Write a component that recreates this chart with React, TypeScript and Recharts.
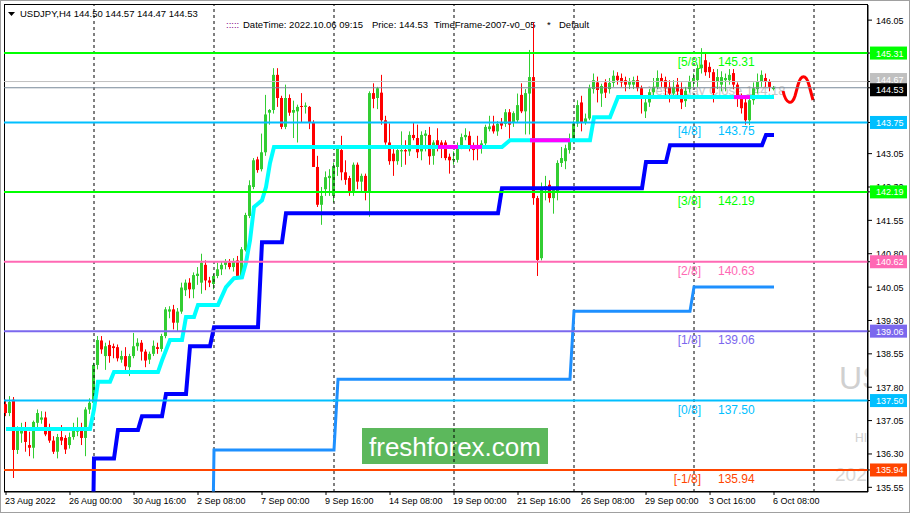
import { Bar, ComposedChart, Customized, Line, ReferenceLine, XAxis, YAxis } from "recharts"

const FONT = "'Liberation Sans', Arial, sans-serif"

// H4 candles, 23 Aug 2022 08:00 .. 6 Oct 2022 08:00
const opens = [
  137.42, 137.22, 137.52, 136.39, 136.76, 136.86, 136.5, 136.44, 137.0, 137.07,
  137.12, 136.9, 136.6, 136.35, 136.68, 136.66, 136.5, 136.68, 136.8, 136.84,
  136.66, 137.3, 137.45, 138.3, 138.85, 138.5, 138.75, 138.72, 138.7, 138.42,
  138.5, 138.25, 138.5, 138.72, 138.8, 138.6, 138.42, 138.55, 138.7, 138.66,
  138.95, 139.5, 139.55, 139.25, 139.5, 139.98, 140.15, 140.0, 140.3, 140.15,
  140.55, 140.2, 140.12, 140.3, 140.45, 140.55, 140.6, 140.5, 140.65, 140.3,
  140.88, 141.65, 142.3, 142.92, 142.7, 143.08, 143.97, 144.03, 144.82, 144.3,
  143.65, 144.3, 143.97, 144.0, 144.12, 144.1, 144.1, 143.76, 142.75, 141.9,
  142.25, 142.5, 142.1, 142.75, 143.13, 142.63, 142.5, 142.18, 142.8, 142.42,
  142.55, 142.2, 144.41, 144.3, 144.42, 143.8, 143.3, 143.05, 142.88, 143.1,
  143.13, 143.1, 143.47, 143.4, 143.1, 143.45, 143.47, 143.0, 143.35, 143.3,
  143.3, 142.98, 142.9, 142.91, 143.24, 143.42, 143.45, 143.2, 143.2, 143.18,
  143.28, 143.6, 143.68, 143.55, 143.76, 143.72, 143.98, 143.76, 143.8, 144.37,
  144.0, 144.4, 144.77, 142.05, 140.7, 142.28, 142.35, 142.05, 142.2, 142.84,
  142.88, 143.13, 143.35, 143.73, 144.2, 143.76, 143.84, 144.5, 144.65, 144.4,
  144.65, 144.5, 144.64, 144.8, 144.75, 144.7, 144.6,
  144.6, 144.7, 144.52, 144.0, 144.2, 144.43, 144.55, 144.75, 144.7, 144.55,
  144.4, 144.6, 144.5, 144.23, 144.5, 144.68, 144.7, 144.97, 145.15, 145.0,
  144.88, 144.66, 144.6, 144.7, 144.7, 144.86, 144.6, 144.32, 144.2, 143.8,
  144.25, 144.5, 144.66, 144.75, 144.66, 144.5,
]
const highs = [
  137.52, 137.6, 137.58, 136.92, 137.0, 137.02, 136.8, 137.05, 137.3, 137.26,
  137.25, 136.98, 136.7, 136.75, 136.95, 136.72, 136.78, 137.0, 137.12, 137.0,
  137.35, 137.55, 138.35, 138.95, 138.95, 138.8, 138.85, 138.78, 138.76, 138.62,
  138.7, 138.55, 139.02, 138.9, 138.86, 138.65, 138.6, 138.85, 138.8, 139.0,
  139.6, 139.62, 139.65, 139.58, 140.15, 140.22, 140.25, 140.38, 140.5, 140.8,
  140.65, 140.28, 140.35, 140.6, 140.62, 140.68, 140.68, 140.7, 140.75, 140.95,
  141.72, 142.45, 142.95, 142.98, 143.5, 144.37, 144.05, 144.97, 144.97, 144.35,
  144.6, 144.38, 144.24, 144.15, 144.41, 144.2, 144.12, 143.8, 143.0, 142.3,
  142.65, 142.7, 142.85, 143.2, 143.45, 142.9, 142.55, 142.85, 142.85, 142.6,
  142.6, 144.45, 144.63, 144.55, 144.82, 143.9, 143.73, 143.15, 143.2, 143.55,
  143.35, 143.55, 143.75, 143.7, 143.55, 143.58, 143.65, 143.35, 143.62, 143.35,
  143.35, 143.05, 143.1, 143.3, 143.5, 143.62, 143.55, 143.3, 143.45, 143.35,
  143.7, 143.9, 143.9, 143.78, 143.85, 144.05, 144.05, 144.0, 144.4, 144.63,
  144.5, 145.38, 146.0, 142.1, 142.4, 142.55, 142.45, 142.3, 142.9, 143.2,
  143.25, 143.5, 143.8, 144.25, 144.35, 143.95, 144.6, 144.85, 144.78, 144.62,
  144.72, 144.75, 144.92, 144.88, 144.85, 144.78, 144.75,
  144.78, 144.8, 144.58, 144.3, 144.5, 144.75, 144.92, 144.85, 144.78, 144.7,
  144.7, 144.75, 144.65, 144.55, 144.8, 144.85, 145.05, 145.42, 145.3, 145.1,
  144.95, 144.95, 144.9, 144.85, 144.95, 144.95, 144.65, 144.4, 144.3, 144.35,
  144.65, 144.85, 144.92, 144.85, 144.72, 144.57,
]
const lows = [
  137.15, 137.15, 135.76, 136.3, 136.55, 136.35, 136.25, 136.2, 136.85, 136.98,
  136.7, 136.55, 136.3, 136.2, 136.5, 136.3, 136.42, 136.62, 136.7, 136.5,
  136.25, 137.2, 137.4, 138.2, 138.55, 138.19, 138.35, 138.45, 138.38, 138.35,
  138.1, 138.05, 138.45, 138.62, 138.4, 138.25, 138.32, 138.5, 138.55, 138.6,
  138.9, 139.35, 139.1, 139.05, 139.45, 139.85, 139.8, 139.8, 140.1, 139.9,
  139.98, 140.05, 140.0, 140.25, 140.32, 140.45, 140.45, 140.4, 140.25, 140.25,
  140.85, 141.6, 142.25, 142.62, 142.65, 143.0, 143.7, 143.95, 144.1, 143.6,
  143.6, 143.9, 143.4, 143.3, 143.74, 143.95, 143.6, 142.75, 141.85, 141.45,
  142.1, 142.1, 141.95, 142.55, 142.45, 142.35, 142.1, 142.1, 142.25, 142.2,
  142.0, 141.63, 144.07, 144.05, 143.7, 143.25, 142.8, 142.55, 142.8, 142.75,
  142.8, 143.0, 143.35, 142.95, 142.9, 143.1, 142.8, 142.8, 143.1, 142.95,
  142.9, 142.6, 142.8, 142.85, 143.15, 143.35, 143.1, 142.9, 142.9, 143.05,
  143.2, 143.55, 143.5, 143.45, 143.6, 143.65, 143.3, 143.65, 143.75, 143.96,
  143.48, 143.48, 141.9, 140.3, 140.65, 142.0, 141.95, 141.7, 142.0, 142.75,
  142.7, 143.05, 143.3, 143.65, 143.55, 143.7, 143.8, 144.4, 144.2, 144.1,
  144.3, 144.4, 144.55, 144.6, 144.55, 144.45, 144.5,
  144.5, 144.45, 143.95, 143.85, 144.1, 144.35, 144.5, 144.55, 144.35, 144.2,
  144.3, 144.3, 144.05, 144.1, 144.42, 144.55, 144.55, 144.85, 144.8, 144.75,
  144.2, 144.5, 144.45, 144.45, 144.6, 144.5, 144.1, 143.95, 143.7, 143.69,
  144.15, 144.4, 144.55, 144.55, 144.45, 144.47,
]
const closes = [
  137.22, 137.47, 136.39, 136.84, 136.86, 136.57, 136.44, 137.02, 137.22, 137.12,
  136.74, 136.6, 136.35, 136.68, 136.6, 136.4, 136.68, 136.84, 136.86, 136.66,
  137.3, 137.45, 138.3, 138.86, 138.65, 138.72, 138.5, 138.68, 138.45, 138.5,
  138.27, 138.5, 138.72, 138.8, 138.6, 138.4, 138.55, 138.73, 138.66, 138.95,
  139.55, 139.55, 139.25, 139.5, 140.04, 140.15, 140.0, 140.32, 140.35, 140.6,
  140.2, 140.15, 140.3, 140.45, 140.55, 140.62, 140.5, 140.62, 140.3, 140.9,
  141.67, 142.34, 142.9, 142.68, 143.08, 143.93, 144.03, 144.82, 144.3, 143.65,
  144.3, 143.97, 144.03, 144.1, 144.1, 144.13, 143.76, 142.75, 141.9, 142.1,
  142.52, 142.55, 142.77, 143.17, 142.63, 142.46, 142.18, 142.8, 142.42, 142.55,
  142.2, 144.41, 144.28, 144.52, 143.8, 143.3, 142.88, 142.88, 143.13, 143.13,
  143.1, 143.47, 143.4, 143.08, 143.47, 143.5, 142.99, 143.3, 143.2, 143.2,
  142.95, 142.9, 142.93, 143.24, 143.42, 143.47, 143.2, 143.13, 143.15, 143.28,
  143.65, 143.66, 143.55, 143.72, 143.68, 143.98, 143.7, 143.96, 144.14, 144.0,
  144.41, 144.77, 142.05, 140.66, 142.3, 142.32, 142.05, 142.23, 142.84, 142.95,
  143.17, 143.35, 143.73, 144.14, 143.76, 143.84, 144.52, 144.7, 144.48, 144.57,
  144.42, 144.64, 144.8, 144.7, 144.65, 144.6, 144.68,
  144.7, 144.52, 144.3, 144.2, 144.43, 144.55, 144.75, 144.66, 144.52, 144.4,
  144.55, 144.45, 144.2, 144.46, 144.68, 144.75, 144.97, 145.05, 144.88, 144.88,
  144.41, 144.77, 144.77, 144.75, 144.82, 144.6, 144.32, 144.07, 143.8, 144.25,
  144.52, 144.66, 144.82, 144.66, 144.55, 144.53,
]

const SLOTS = 216 // candle slots across the chart window (incl. right shift)

const timeLabels = [
  "23 Aug 2022", "26 Aug 00:00", "30 Aug 16:00", "2 Sep 08:00", "7 Sep 00:00",
  "9 Sep 16:00", "14 Sep 08:00", "19 Sep 00:00", "21 Sep 16:00", "26 Sep 08:00",
  "29 Sep 00:00", "3 Oct 16:00", "6 Oct 08:00",
]
const timeTicks = [0, 16, 32, 48, 64, 80, 96, 112, 128, 144, 160, 176, 192]
const weekStarts = [22, 52, 82, 112, 142, 172, 202]

// scale labels that stay visible next to the price boxes
const priceTicks = [
  146.05, 143.05, 142.3, 141.55, 140.8, 140.05, 139.3, 138.55, 137.8, 137.05,
  136.3, 135.55,
]

// indicator step lines: [bar, price]
const cyanSteps = [
  [0, 136.86], [21, 136.86], [22, 137.3], [23, 137.92], [26, 137.92], [27, 138.14],
  [38, 138.14], [39, 138.4], [41, 138.86], [44, 138.86], [45, 139.38], [47, 139.38],
  [48, 139.65], [53, 139.65], [55, 140.05], [57, 140.25], [59, 140.27], [60, 140.6],
  [61, 141.1], [62, 141.85], [64, 142.0], [65, 142.3], [66, 142.84], [67, 143.2],
  [124, 143.2], [126, 143.35], [146, 143.35], [147, 143.87], [151, 143.87],
  [153, 144.32], [192, 144.32],
]
const blueSteps = [
  [21, 130], [22, 136.2], [27, 136.2], [28, 136.84], [33, 136.84], [34, 137.15],
  [39, 137.15], [40, 137.65], [45, 137.65], [46, 138.72], [51, 138.72], [52, 139.15],
  [63, 139.15], [64, 141.06], [69, 141.06], [70, 141.71], [123, 141.71], [124, 142.27],
  [159, 142.27], [160, 142.86], [165, 142.86], [166, 143.24], [189, 143.24],
  [190, 143.47], [192, 143.47],
]
const dodgerSteps = [
  [51, 130], [52, 136.39], [82, 136.39], [83, 137.98], [141, 137.98], [142, 139.51],
  [171, 139.51], [172, 140.05], [192, 140.05],
]
const magentaRuns = [
  [108, 113, 143.2], [116, 119, 143.2], [131, 141, 143.35], [182, 186, 144.32],
]

const murrey = [
  { v: 145.31, tag: "[5/8]", text: "145.31", color: "#00ff00" },
  { v: 143.75, tag: "[4/8]", text: "143.75", color: "#00bfff" },
  { v: 142.19, tag: "[3/8]", text: "142.19", color: "#00ff00" },
  { v: 140.62, tag: "[2/8]", text: "140.63", color: "#ff69b4" },
  { v: 139.06, tag: "[1/8]", text: "139.06", color: "#7b68ee" },
  { v: 137.5, tag: "[0/8]", text: "137.50", color: "#00bfff" },
  { v: 135.94, tag: "[-1/8]", text: "135.94", color: "#ff4500" },
]

// price boxes on the right scale (drawn after the plain ticks, so they sit on top)
const priceBoxes = [
  ...murrey.map((m) => ({ v: m.v, bg: m.color, shift: 0 })),
  { v: 144.67, bg: "#c0c0c0", shift: -2 },
  { v: 144.53, bg: "#000000", shift: 2 },
]
const boxByValue = new Map(priceBoxes.map((b) => [b.v, b]))

type Row = { [k: string]: number | undefined }
const rows: Row[] = Array.from({ length: SLOTS }, (_, i) => ({ i }))
opens.forEach((o, i) => {
  rows[i].o = o
  rows[i].h = highs[i]
  rows[i].l = lows[i]
  rows[i].c = closes[i]
})
cyanSteps.forEach(([i, v]) => (rows[i].cyan = v))
blueSteps.forEach(([i, v]) => (rows[i].blue = v))
dodgerSteps.forEach(([i, v]) => (rows[i].dodger = v))
magentaRuns.forEach(([a, b, v], k) => {
  rows[a]["m" + k] = v
  rows[b]["m" + k] = v
})

const candleRange = (d: Row) => (d.h == null ? null : [d.l, d.h])

function Candle(props: any) {
  const { x, y, width, height, payload } = props
  if (!payload || payload.h == null) return <g />
  const { o, h, l, c } = payload
  const k = h - l > 0 ? height / (h - l) : 0
  const py = (v: number) => y + (h - v) * k
  const cx = Math.round(x + width / 2)
  const color = c >= o ? "#32cd32" : "#ff0000"
  const top = py(Math.max(o, c))
  const bot = py(Math.min(o, c))
  return (
    <g>
      <line x1={cx - 0.5} x2={cx - 0.5} y1={y} y2={y + height} stroke={color} strokeWidth={1} />
      <rect x={cx - 2} y={top} width={3} height={Math.max(bot - top, 1)} fill={color} />
    </g>
  )
}

function TimeTick(props: any) {
  const { x, y, payload } = props
  const label = timeLabels[timeTicks.indexOf(payload.value)]
  return (
    <text x={x - 1} y={y + 7} fontSize={9} fontFamily={FONT} fill="#000" textAnchor="start">
      {label}
    </text>
  )
}

function PriceTick(props: any) {
  const { x, y, payload } = props
  const box = boxByValue.get(payload.value)
  const txt = Number(payload.value).toFixed(2)
  if (box) {
    const yy = y + box.shift
    return (
      <g>
        <rect x={x - 5} y={yy - 6.5} width={37} height={13} fill={box.bg} />
        <text x={x + 1} y={yy + 3.5} fontSize={9} fontFamily={FONT} fill="#fff">{txt}</text>
      </g>
    )
  }
  return (
    <text x={x + 1} y={y + 3.5} fontSize={9} fontFamily={FONT} fill="#000">{txt}</text>
  )
}

function MurreyLabel(props: any) {
  const { viewBox, tag, text, color } = props
  if (!viewBox) return null
  const yy = viewBox.y
  return (
    <g fontSize={12} fontFamily={FONT} fill={color}>
      <text x={701} y={yy + 13} textAnchor="end">{tag}</text>
      <text x={718} y={yy + 13}>{text}</text>
    </g>
  )
}

function Backdrop() {
  return (
    <g fontFamily={FONT}>
      <defs>
        <clipPath id="plot-clip">
          <rect x={5} y={5} width={862} height={486} />
        </clipPath>
      </defs>
      <rect x={0.5} y={0.5} width={909} height={512} fill="none" stroke="#a0a0a0" />
      <g clipPath="url(#plot-clip)">
        <text x={648} y={95} fontSize={13} fill="#c8c8c8">Yesterday Close 144.18</text>
        <text x={839} y={389} fontSize={32} fill="#d0d0d0">US</text>
        <text x={855} y={442} fontSize={12} fill="#d0d0d0">HI</text>
        <text x={835} y={481} fontSize={19} fill="#d8d8d8">2022</text>
      </g>
      <rect x={362} y={428} width={186} height={36} fill="#5cb85c" />
      <text x={455} y={456} fontSize={26} fill="#fff" textAnchor="middle">freshforex.com</text>
    </g>
  )
}

function Overlay() {
  return (
    <g fontFamily={FONT}>
      <rect x={4.5} y={4.5} width={863} height={487} fill="none" stroke="#000" />
      <polygon points="8,12 15,12 11.5,16" fill="#000" />
      <text x={20} y={17} fontSize={9.5} fill="#000">USDJPY,H4  144.50 144.57 144.47 144.53</text>
      <text x={226} y={28} fontSize={9.5} fill="#800080">:::::</text>
      <text x={243} y={28} fontSize={9.5} fill="#000">DateTime: 2022.10.06 09:15</text>
      <text x={372} y={28} fontSize={9.5} fill="#000">Price: 144.53</text>
      <text x={434} y={28} fontSize={9.5} fill="#000">TimeFrame-2007-v0_05</text>
      <text x={547} y={28} fontSize={9.5} fill="#000">*</text>
      <text x={559} y={28} fontSize={9.5} fill="#000">Default</text>
      <path
        d="M783,91 C786,104 792,106 795,96 L798,85 C801,74 806,74 809,85 L813,100"
        fill="none"
        stroke="#ff0000"
        strokeWidth={3}
      />
    </g>
  )
}

export default function App() {
  return (
    <div style={{ position: "absolute", left: 0, top: 0, width: 911, height: 514, background: "#fff" }}>
      <ComposedChart
        width={911}
        height={514}
        data={rows}
        margin={{ top: 5, right: 0, bottom: 0, left: 4 }}
        barCategoryGap={0}
        barGap={0}
      >
        <Customized component={Backdrop} />
        <XAxis
          dataKey="i"
          type="category"
          ticks={timeTicks}
          interval={0}
          height={22}
          tickSize={3}
          tick={<TimeTick />}
          tickLine={{ stroke: "#000" }}
          axisLine={{ stroke: "#000" }}
        />
        <YAxis
          orientation="right"
          width={43}
          domain={[135.445, 146.39]}
          allowDataOverflow
          ticks={[...priceTicks, ...priceBoxes.map((b) => b.v)]}
          interval={0}
          tickSize={4}
          tickMargin={3}
          tick={<PriceTick />}
          tickLine={{ stroke: "#000" }}
          axisLine={{ stroke: "#000" }}
        />
        {weekStarts.map((w) => (
          <ReferenceLine key={w} x={w} stroke="#000" strokeDasharray="3 3" />
        ))}
        <Bar dataKey={candleRange} shape={<Candle />} barSize={4} isAnimationActive={false} />
        <Line dataKey="dodger" stroke="#1e90ff" strokeWidth={3} dot={false} connectNulls isAnimationActive={false} />
        <Line dataKey="blue" stroke="#0000ff" strokeWidth={4} dot={false} connectNulls isAnimationActive={false} />
        <Line dataKey="cyan" stroke="#00ffff" strokeWidth={4} dot={false} connectNulls isAnimationActive={false} />
        {magentaRuns.map((_, k) => (
          <Line key={k} dataKey={"m" + k} stroke="#ff00ff" strokeWidth={4} dot={false} connectNulls isAnimationActive={false} />
        ))}
        <ReferenceLine y={144.67} stroke="#c0c0c0" />
        <ReferenceLine y={144.53} stroke="#778899" />
        {murrey.map((m) => (
          <ReferenceLine
            key={m.v}
            y={m.v}
            stroke={m.color}
            strokeWidth={2}
            label={<MurreyLabel tag={m.tag} text={m.text} color={m.color} />}
          />
        ))}
        <Customized component={Overlay} />
      </ComposedChart>
    </div>
  )
}
